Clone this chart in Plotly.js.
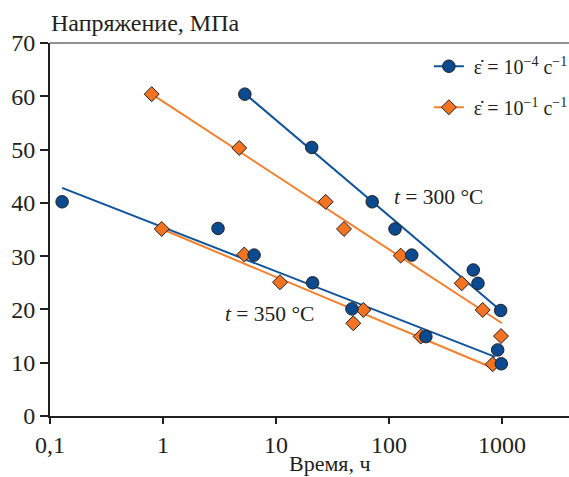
<!DOCTYPE html>
<html>
<head>
<meta charset="utf-8">
<script src="https://cdn.plot.ly/plotly-3.0.1.min.js"></script>
<style>html,body{margin:0;padding:0;background:#fff;}#chart{width:569px;height:477px;}</style>
</head>
<body>
<div id="chart"></div>
<script>
// Points, strain rate 1e-4 s^-1 (blue circles)
const slowX = [0.128, 3.07, 5.3, 6.4, 20.7, 21.1, 71, 47, 113, 159, 557, 613, 973, 212, 916, 986];
const slowY = [40.2, 35.2, 60.4, 30.2, 50.4, 25.0, 40.2, 20.1, 35.1, 30.2, 27.4, 24.9, 19.8, 14.9, 12.4, 9.8];
// Points, strain rate 1e-1 s^-1 (orange diamonds)
const fastX = [0.794, 4.73, 0.974, 5.24, 10.85, 27.5, 40, 127, 59.3, 48.3, 440, 675, 980, 191, 827];
const fastY = [60.4, 50.3, 35.1, 30.3, 25.1, 40.2, 35.1, 30.1, 19.9, 17.4, 24.9, 19.9, 15.0, 14.9, 9.7];
// Fit lines
const slow300X = [5.3, 973], slow300Y = [60.5, 19.8];
const fast300X = [0.794, 1000], fast300Y = [60.4, 17.4];
const slow350X = [0.128, 870], slow350Y = [42.8, 11.1];
const fast350X = [0.974, 811], fast350Y = [35.1, 9.1];
// Axis ticks
const xTickVals = [0.1, 1, 10, 100, 1000];
const xTickText = ['0,1', '1', '10', '100', '1000'];
const yTickVals = [0, 10, 20, 30, 40, 50, 60, 70];

const blue = '#0b4a8e', blueLine = '#0f539c';
const orange = '#f37321', orangeLine = '#f5802c';
const ink = '#231f20';
const serif = "'Liberation Serif', serif";

const lineTrace = (x, y, c) => ({x, y, type:'scatter', mode:'lines', line:{color:c, width:2}, showlegend:false, hoverinfo:'skip'});
const circ = {symbol:'circle', size:12.5, color:blue, line:{color:ink, width:1}};
const diam = {symbol:'diamond', size:11.5, color:orange, line:{color:ink, width:1}};
const traces = [
  lineTrace(fast300X, fast300Y, orangeLine),
  lineTrace(slow300X, slow300Y, blueLine),
  lineTrace(fast350X, fast350Y, orangeLine),
  lineTrace(slow350X, slow350Y, blueLine),
  {x: fastX, y: fastY, type:'scatter', mode:'markers', showlegend:false, marker:diam},
  {x: slowX, y: slowY, type:'scatter', mode:'markers', showlegend:false, marker:circ},
  {x:[null], y:[null], type:'scatter', mode:'lines+markers', name:'&nbsp;ε̇ = 10<sup>−4</sup> с<sup>−1</sup>',
   line:{color:blueLine, width:2}, marker:circ, legendgroup:'a'},
  {x:[null], y:[null], type:'scatter', mode:'lines+markers', name:'&nbsp;ε̇ = 10<sup>−1</sup> с<sup>−1</sup>',
   line:{color:orangeLine, width:2}, marker:diam, legendgroup:'b'}
];

const layout = {
  width:569, height:477,
  margin:{l:50, r:0, t:43, b:61, autoexpand:false},
  paper_bgcolor:'#fff', plot_bgcolor:'#fff',
  font:{family:serif, color:ink, size:21},
  showlegend:true,
  legend:{x:0.73, y:0.99, xanchor:'left', yanchor:'top', bgcolor:'rgba(0,0,0,0)',
    font:{size:20, family:serif, color:ink}, traceorder:'grouped', tracegroupgap:12},
  xaxis:{type:'log', range:[-1, 3.593], tickvals:xTickVals, ticktext:xTickText, automargin:false,
    ticks:'outside', ticklen:6, tickwidth:2, tickcolor:ink, showline:true, linewidth:2, linecolor:ink,
    showgrid:false, zeroline:false, tickfont:{size:24, family:serif, color:ink}},
  yaxis:{range:[0, 70], tickvals:yTickVals, ticks:'outside', ticklen:8, tickwidth:2, tickcolor:ink, automargin:false,
    showline:true, linewidth:2, linecolor:ink, showgrid:false, zeroline:false,
    tickfont:{size:24, family:serif, color:ink}},
  shapes:[{type:'line', xref:'paper', yref:'paper', x0:0, x1:1, y0:1, y1:1, line:{color:ink, width:1}}],
  annotations:[
    {xref:'paper', yref:'paper', x:-0.002, y:1.0, xanchor:'left', yanchor:'bottom', yshift:5, showarrow:false,
     text:'Напряжение, МПа', font:{size:24, family:serif, color:ink}},
    {xref:'paper', yref:'paper', x:0.54, y:0, xanchor:'center', yanchor:'top', yshift:-33, showarrow:false,
     text:'Время, ч', font:{size:22, family:serif, color:ink}},
    {xref:'paper', yref:'paper', x:0.7476, y:0.587, xanchor:'center', yanchor:'middle', showarrow:false,
     text:'<i>t</i> = 300 °C', font:{size:21.5, family:serif, color:ink}},
    {xref:'paper', yref:'paper', x:0.422, y:0.273, xanchor:'center', yanchor:'middle', showarrow:false,
     text:'<i>t</i> = 350 °C', font:{size:21.5, family:serif, color:ink}}
  ]
};

Plotly.newPlot('chart', traces, layout, {staticPlot:true, displayModeBar:false});
</script>
</body>
</html>
